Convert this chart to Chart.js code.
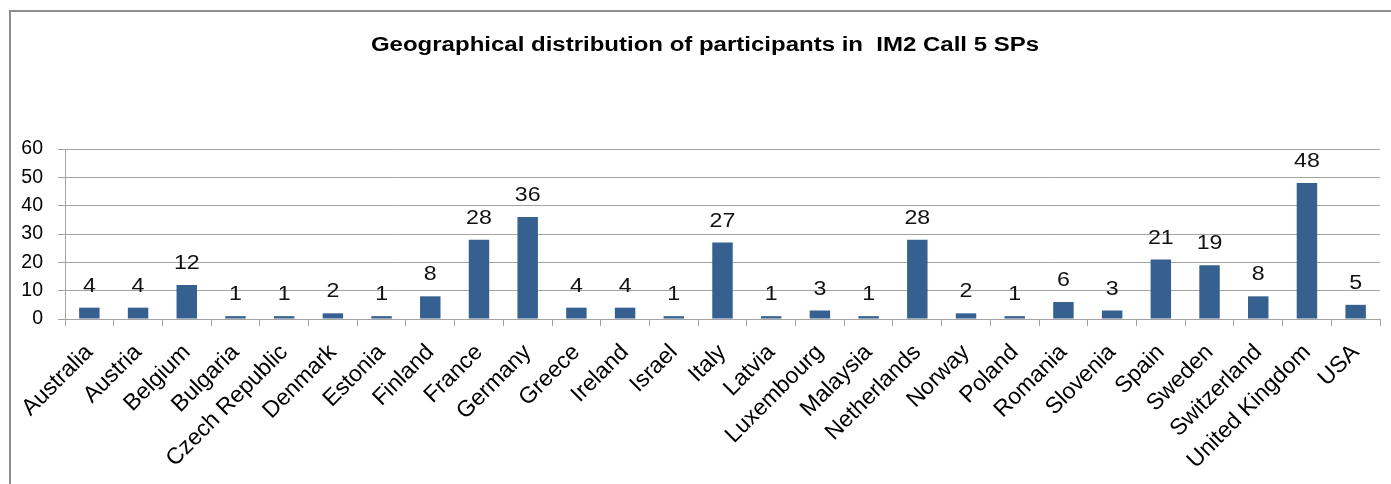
<!DOCTYPE html>
<html>
<head>
<meta charset="utf-8">
<title>Geographical distribution of participants</title>
<script src="https://cdn.jsdelivr.net/npm/chart.js@4/dist/chart.umd.min.js"></script>
<style>
  html, body { margin: 0; padding: 0; background: #fff; overflow: hidden; }
  #wrap { position: relative; width: 1391px; height: 484px; }
  #frame {
    position: absolute; left: 9px; top: 10px; width: 1400px; height: 500px;
    border: 2px solid #8e8e8e; box-sizing: border-box;
  }
  #chart { position: absolute; left: 0; top: 0; }
</style>
</head>
<body>
<div id="wrap">
  <div id="frame"></div>
  <canvas id="chart" width="1391" height="484"></canvas>
</div>
<script>
// Δεδομένα του γραφήματος
const chartTitle = 'Geographical distribution of participants in  IM2 Call 5 SPs';
const countries = [
    'Australia', 'Austria', 'Belgium', 'Bulgaria', 'Czech Republic', 'Denmark',
    'Estonia', 'Finland', 'France', 'Germany', 'Greece', 'Ireland', 'Israel',
    'Italy', 'Latvia', 'Luxembourg', 'Malaysia', 'Netherlands', 'Norway',
    'Poland', 'Romania', 'Slovenia', 'Spain', 'Sweden', 'Switzerland',
    'United Kingdom', 'USA'
];
const participants = [
    4, 4, 12, 1, 1, 2, 1, 8, 28, 36, 4, 4, 1, 27, 1, 3, 1, 28, 2, 1, 6, 3,
    21, 19, 8, 48, 5
];
const yTicks = [0, 10, 20, 30, 40, 50, 60];

const FONT = '"Liberation Sans", Arial, sans-serif';
const GRID = '#a3a3a3';

// Τίτλος σε σταθερή θέση (ελαφρώς πλατύτερο κείμενο όπως στο πρωτότυπο)
const titlePlugin = {
    id: 'fixedTitle',
    afterDraw(chart) {
        const ctx = chart.ctx;
        ctx.save();
        ctx.font = 'bold 20px ' + FONT;
        ctx.fillStyle = '#000';
        ctx.textAlign = 'center';
        ctx.textBaseline = 'middle';
        ctx.translate(705, 45);
        ctx.scale(1.2, 1);
        ctx.fillText(chartTitle, 0, 0);
        ctx.restore();
    }
};

// Ετικέτες τιμών πάνω από τις μπάρες
const valueLabels = {
    id: 'valueLabels',
    afterDatasetsDraw(chart) {
        const ctx = chart.ctx;
        const meta = chart.getDatasetMeta(0);
        ctx.save();
        ctx.font = '20.5px ' + FONT;
        ctx.fillStyle = '#111';
        ctx.textAlign = 'center';
        ctx.textBaseline = 'alphabetic';
        meta.data.forEach((bar, i) => {
            ctx.save();
            ctx.translate(bar.x, bar.y - 16);
            ctx.scale(1.13, 1);
            ctx.fillText(String(participants[i]), 0, 0);
            ctx.restore();
        });
        ctx.restore();
    }
};

new Chart(document.getElementById('chart'), {
    type: 'bar',
    data: {
        labels: countries,
        datasets: [{
            data: participants,
            backgroundColor: '#36608f',
            borderWidth: 0,
            barPercentage: 0.42,
            categoryPercentage: 1.0
        }]
    },
    options: {
        responsive: false,
        animation: false,
        devicePixelRatio: 1,
        layout: { padding: { top: 149, right: 11, left: 0, bottom: 0 } },
        plugins: {
            legend: { display: false },
            title: { display: false },
            tooltip: { enabled: false }
        },
        scales: {
            x: {
                grid: {
                    display: true,
                    offset: true,
                    drawOnChartArea: false,
                    drawTicks: true,
                    tickLength: 7,
                    color: GRID
                },
                border: { display: true, color: GRID, width: 1 },
                ticks: {
                    autoSkip: false,
                    maxRotation: 45,
                    minRotation: 45,
                    padding: 13,
                    color: '#000',
                    font: { family: FONT, size: 23 }
                },
                afterFit(scale) { scale.height = 165; }
            },
            y: {
                min: 0,
                max: 60,
                afterBuildTicks(scale) {
                    scale.ticks = yTicks.map(v => ({ value: v }));
                },
                grid: {
                    color: GRID,
                    lineWidth: 1,
                    drawTicks: true,
                    tickLength: 7
                },
                border: { display: true, color: GRID, width: 1 },
                ticks: {
                    padding: 15,
                    color: '#000',
                    font: { family: FONT, size: 19.5 }
                },
                afterFit(scale) { scale.width = 65; }
            }
        }
    },
    plugins: [titlePlugin, valueLabels]
});
</script>
</body>
</html>
